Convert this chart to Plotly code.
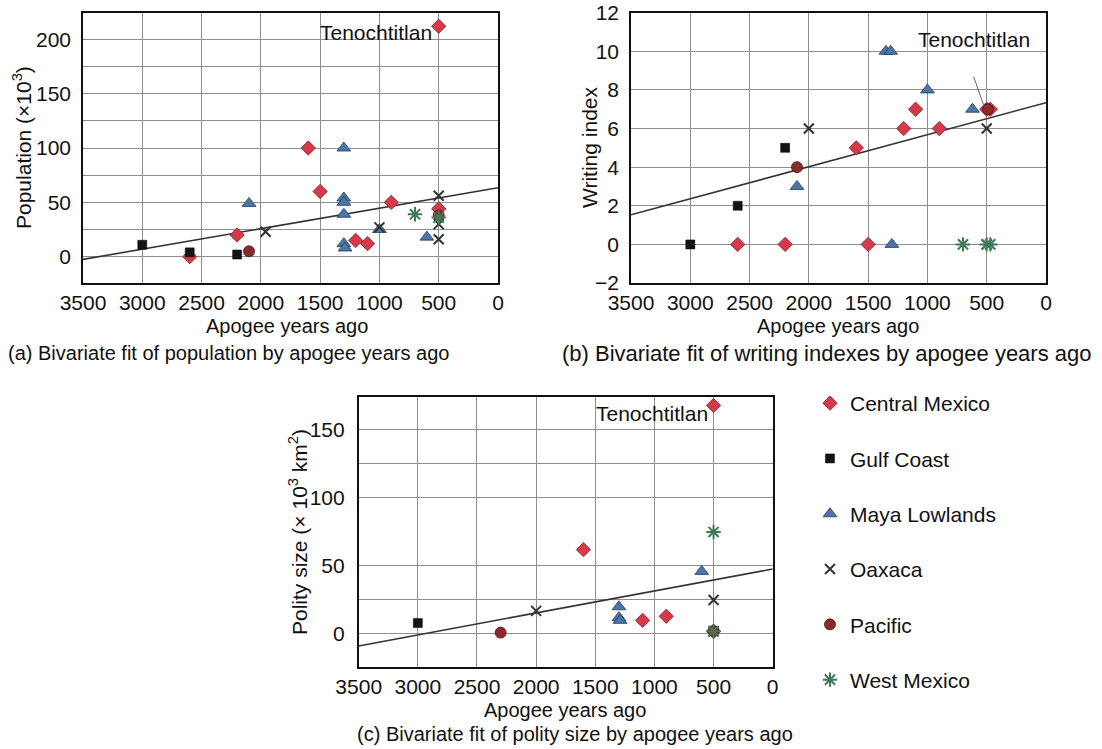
import plotly.graph_objects as go

W, H = 1102, 749

# ---------------- data ----------------
regions = ["Central Mexico", "Gulf Coast", "Maya Lowlands", "Oaxaca", "Pacific", "West Mexico"]

# (a) population (x10^3) by apogee years ago
pop_cm_x = [500, 1600, 1500, 900, 500, 2200, 2600, 1200, 1100]
pop_cm_y = [212, 100, 60, 50, 44, 20, 0, 15, 12]
pop_gc_x = [3000, 2600, 2200]
pop_gc_y = [11, 4, 2]
pop_ml_x = [2100, 1300, 1300, 1300, 1300, 1300, 1290, 1000, 600]
pop_ml_y = [49, 100, 54, 50, 39, 12, 8, 25, 18]
pop_ox_x = [1960, 1000, 500, 500, 500]
pop_ox_y = [23, 27, 56, 30, 16]
pop_pa_x = [2100, 500]
pop_pa_y = [5, 38]
pop_wm_x = [700, 500]
pop_wm_y = [39, 36]
pop_fit_x = [3500, 0]
pop_fit_y = [-2.5, 63.5]

# (b) writing index
wr_cm_x = [2600, 2200, 1500, 1600, 1200, 1100, 900, 500, 470]
wr_cm_y = [0, 0, 0, 5, 6, 7, 6, 7, 7]
wr_gc_x = [3000, 2600, 2200]
wr_gc_y = [0, 2, 5]
wr_ml_x = [1350, 1310, 1000, 620, 2100, 1300]
wr_ml_y = [10, 10, 8, 7, 3, 0]
wr_ox_x = [2000, 500, 500]
wr_ox_y = [6, 6, 0]
wr_pa_x = [2100, 490]
wr_pa_y = [4, 7]
wr_wm_x = [700, 500, 470]
wr_wm_y = [0, 0, 0]
wr_fit_x = [3500, 0]
wr_fit_y = [1.53, 7.34]

# (c) polity size (x10^3 km^2)
po_cm_x = [500, 1600, 1100, 900, 500]
po_cm_y = [168, 62, 10, 13, 2]
po_gc_x = [3000]
po_gc_y = [8]
po_ml_x = [600, 1300, 1300, 1290]
po_ml_y = [46, 20, 12, 10]
po_ox_x = [2000, 500, 500]
po_ox_y = [17, 25, 2]
po_pa_x = [2300, 500]
po_pa_y = [1, 2]
po_wm_x = [500, 500]
po_wm_y = [75, 2]
po_fit_x = [3500, 0]
po_fit_y = [-8.8, 47.8]

x_ticks = [3500, 3000, 2500, 2000, 1500, 1000, 500, 0]

# ---------------- styles ----------------
styles = {
    "Central Mexico": dict(symbol="diamond", size=11, color="#d8394a",
                           line=dict(color="#7a1f28", width=0.8)),
    "Gulf Coast": dict(symbol="square", size=9, color="#141414",
                       line=dict(color="#000000", width=0.5)),
    "Maya Lowlands": dict(symbol="triangle-up", size=12, color="#4a76aa",
                          line=dict(color="#23395a", width=0.8)),
    "Oaxaca": dict(symbol="x-thin-open", size=10, color="#333333",
                   line=dict(color="#333333", width=2)),
    "Pacific": dict(symbol="circle", size=11, color="#8c2a2c",
                    line=dict(color="#4a1214", width=0.8)),
    "West Mexico": dict(symbol="asterisk-open", size=12, color="#3f7a58",
                        line=dict(color="#3f7a58", width=2)),
}

fig = go.Figure()

panels = [
    ("x", "y", [(pop_cm_x, pop_cm_y), (pop_gc_x, pop_gc_y), (pop_ml_x, pop_ml_y),
                (pop_ox_x, pop_ox_y), (pop_pa_x, pop_pa_y), (pop_wm_x, pop_wm_y)],
     pop_fit_x, pop_fit_y, True),
    ("x2", "y2", [(wr_cm_x, wr_cm_y), (wr_gc_x, wr_gc_y), (wr_ml_x, wr_ml_y),
                  (wr_ox_x, wr_ox_y), (wr_pa_x, wr_pa_y), (wr_wm_x, wr_wm_y)],
     wr_fit_x, wr_fit_y, False),
    ("x3", "y3", [(po_cm_x, po_cm_y), (po_gc_x, po_gc_y), (po_ml_x, po_ml_y),
                  (po_ox_x, po_ox_y), (po_pa_x, po_pa_y), (po_wm_x, po_wm_y)],
     po_fit_x, po_fit_y, False),
]

for xa, ya, series, fx, fy, show in panels:
    fig.add_trace(go.Scatter(x=fx, y=fy, mode="lines", xaxis=xa, yaxis=ya,
                             line=dict(color="#333333", width=1.6),
                             showlegend=False, hoverinfo="skip"))
    for name, (sx, sy) in zip(regions, series):
        st = styles[name]
        fig.add_trace(go.Scatter(
            x=sx, y=sy, mode="markers", name=name, xaxis=xa, yaxis=ya,
            legendgroup=name, showlegend=show,
            marker=dict(symbol=st["symbol"], size=st["size"], color=st["color"],
                        line=st["line"])))


def px_x(p):
    return p / W


def px_y(p):
    return 1 - p / H


FONT = "Liberation Sans, Arial"
GRID = "#8e8e8e"
grid = dict(showgrid=True, gridcolor=GRID, gridwidth=1.3, automargin=False,
            showline=True, linecolor="#111111", linewidth=1.6, mirror=True,
            zeroline=False, ticks="", tickfont=dict(family=FONT, size=21, color="#111"))

xcommon = dict(range=[3500, 0], tickvals=x_ticks, ticklabelstandoff=0, **grid)

fig.update_layout(
    width=W, height=H, margin=dict(l=0, r=0, t=0, b=0, autoexpand=False),
    paper_bgcolor="white", plot_bgcolor="white",
    font=dict(family=FONT, size=20, color="#111"),
    xaxis=dict(domain=[px_x(83), px_x(498)], anchor="y", **xcommon),
    yaxis=dict(domain=[px_y(283), px_y(13)], anchor="x", range=[-24.2, 224.2],
               tickvals=[0, 50, 100, 150, 200], ticklabelstandoff=6,
               minor=dict(tickvals=[-25, 25, 75, 125, 175, 225], showgrid=True,
                          gridcolor=GRID, gridwidth=1.3, ticks=""),
               **grid),
    xaxis2=dict(domain=[px_x(631), px_x(1046)], anchor="y2", **xcommon),
    yaxis2=dict(domain=[px_y(283), px_y(12.7)], anchor="x2", range=[-2, 12],
                tickvals=[-2, 0, 2, 4, 6, 8, 10, 12],
                ticktext=["\u22122", "0", "2", "4", "6", "8", "10", "12"],
                ticklabelstandoff=6, **grid),
    xaxis3=dict(domain=[px_x(358.7), px_x(772.7)], anchor="y3", **xcommon),
    yaxis3=dict(domain=[px_y(667.3), px_y(397.3)], anchor="x3", range=[-24.5, 174],
                tickvals=[0, 50, 100, 150], ticklabelstandoff=8,
                minor=dict(tickvals=[25, 125], showgrid=True,
                           gridcolor=GRID, gridwidth=1.3, ticks=""),
                **grid),
    legend=dict(x=px_x(810), y=px_y(383), xanchor="left", yanchor="top",
                font=dict(family=FONT, size=21, color="#111"), tracegroupgap=25,
                bgcolor="rgba(0,0,0,0)"),
)

ann = []
tf = dict(family=FONT, size=21, color="#111")
# Tenochtitlan labels
ann.append(dict(x=540, y=206, xref="x", yref="y", text="Tenochtitlan", showarrow=False,
                xanchor="right", yanchor="middle", font=tf))
ann.append(dict(x=1095, y=10.6, xref="x2", yref="y2", text="Tenochtitlan", showarrow=False,
                xanchor="left", yanchor="middle", font=tf))
ann.append(dict(x=530, y=162, xref="x3", yref="y3", text="Tenochtitlan", showarrow=False,
                xanchor="right", yanchor="middle", font=tf))
# y-axis titles
ann.append(dict(x=px_x(22), y=px_y(148), xref="paper", yref="paper", textangle=-90,
                text="Population (\u00d710<sup>3</sup>)", showarrow=False, font=tf,
                xanchor="center", yanchor="middle"))
ann.append(dict(x=px_x(589), y=px_y(148), xref="paper", yref="paper", textangle=-90,
                text="Writing index", showarrow=False, font=tf,
                xanchor="center", yanchor="middle"))
ann.append(dict(x=px_x(298), y=px_y(532), xref="paper", yref="paper", textangle=-90,
                text="Polity size (\u00d7 10<sup>3</sup> km<sup>2</sup>)", showarrow=False, font=tf,
                xanchor="center", yanchor="middle"))
# x-axis titles and captions
for cx, ty, cap_x, cy, cap, cs in [
    (287, 326, 228, 353, "(a) Bivariate fit of population by apogee years ago", 20),
    (838, 326, 827, 353, "(b) Bivariate fit of writing indexes by apogee years ago", 22),
    (565, 710, 575, 734, "(c) Bivariate fit of polity size by apogee years ago", 20),
]:
    ann.append(dict(x=px_x(cx), y=px_y(ty), xref="paper", yref="paper", text="Apogee years ago",
                    showarrow=False, font=dict(family=FONT, size=20, color="#111"),
                    xanchor="center", yanchor="middle"))
    ann.append(dict(x=px_x(cap_x), y=px_y(cy), xref="paper", yref="paper", text=cap,
                    showarrow=False, font=dict(family=FONT, size=cs, color="#111"),
                    xanchor="center", yanchor="middle"))
fig.update_layout(annotations=ann)

# leader line for Tenochtitlan in panel (b)
fig.add_shape(type="line", xref="x2", yref="y2", x0=610, y0=8.69, x1=524, y1=7.17,
              line=dict(color="#666666", width=1))

fig.write_html("out.html")
